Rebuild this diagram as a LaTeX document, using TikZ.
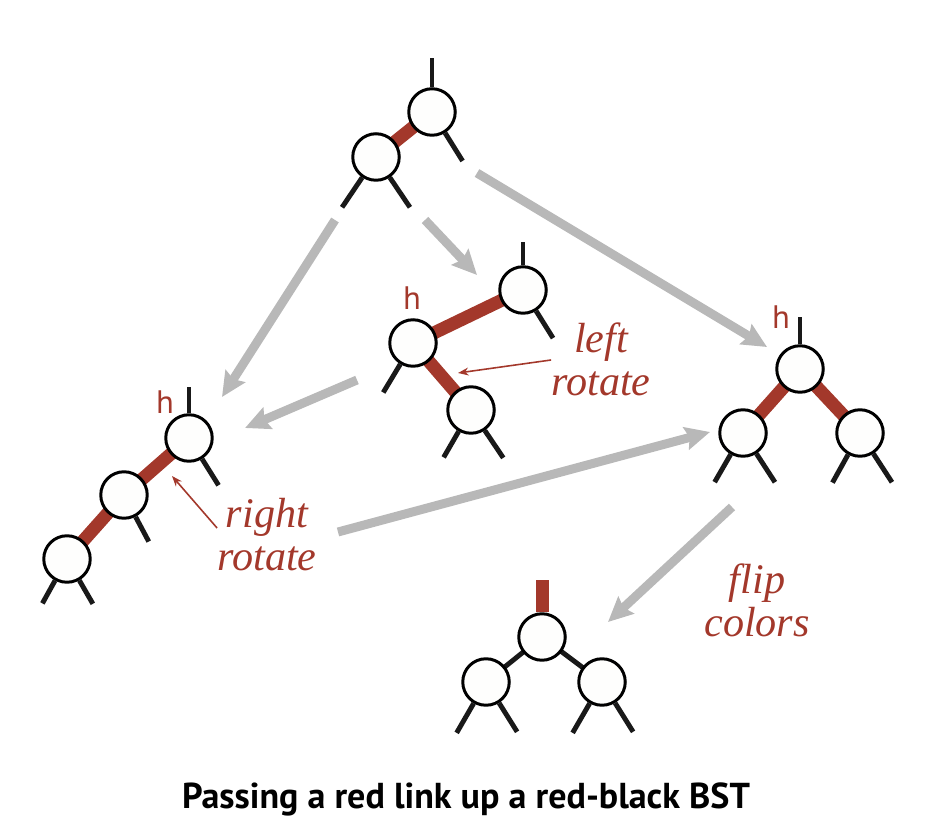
\documentclass[tikz,border=0pt]{standalone}
\usepackage{fontspec}
\setmainfont{Liberation Serif}
\newfontfamily\hfont{PT Sans}
\usepackage{tikz}
\usetikzlibrary{arrows.meta, backgrounds}
\definecolor{linkred}{RGB}{163,56,43}
\definecolor{movegray}{RGB}{184,184,184}
\definecolor{nodefill}{RGB}{254,254,253}
\tikzset{
  treenode/.style={circle, draw=black, line width=1.7pt, fill=nodefill, minimum size=0.93cm, inner sep=0pt},
  redlink/.style={draw=linkred, line width=7.4pt},
  blacklink/.style={draw=black!90, line width=2.8pt},
  stub/.style={draw=black!90, line width=2.8pt},
  move/.style={draw=movegray, line width=5.1pt, -{Stealth[length=14pt, width=13pt, inset=2pt]}},
  hint/.style={draw=linkred, line width=0.9pt, -{Stealth[length=6pt, width=4.5pt]}},
  hlabel/.style={text=linkred, font=\hfont\fontsize{18.5}{20}\selectfont, inner sep=0pt},
  oplabel/.style={text=linkred, font=\itshape\fontsize{24}{24.5}\selectfont, align=center, inner sep=0pt}
}

\begin{document}
\begin{tikzpicture}[x=0.02cm, y=-0.02cm]
    \useasboundingbox (0,0) rectangle (926,830);

    % Arbol inicial
    \node (up1) [treenode] at (432,112) {};
    \node (low1) [treenode] at (376,157) {};

    % Tras left rotate
    \node (up2) [treenode] at (523,290) {};
    \node (h2) [treenode] at (413,343) {};
    \node (low2) [treenode] at (471,410) {};
    \node (hl2) [hlabel] at (412,298) {h};

    % Tras right rotate
    \node (h3) [treenode] at (189,438) {};
    \node (mid3) [treenode] at (124,495) {};
    \node (low3) [treenode] at (67,559) {};
    \node (hl3) [hlabel] at (165,402) {h};

    % Dos hijos rojos
    \node (h4) [treenode] at (800,369) {};
    \node (l4) [treenode] at (743,433) {};
    \node (r4) [treenode] at (860,433) {};
    \node (hl4) [hlabel] at (781,317) {h};

    % Tras flip colors
    \node (top5) [treenode] at (542,637) {};
    \node (l5) [treenode] at (486,682) {};
    \node (r5) [treenode] at (602,682) {};

    % Enlaces (detras de los nodos)
    \begin{scope}[on background layer]
        \draw [redlink] (up1.center) -- (low1.center);
        \draw [redlink] (h2.center) -- (up2.center);
        \draw [redlink] (h2.center) -- (low2.center);
        \draw [redlink] (h3.center) -- (mid3.center);
        \draw [redlink] (mid3.center) -- (low3.center);
        \draw [redlink] (h4.center) -- (l4.center);
        \draw [redlink] (h4.center) -- (r4.center);
        \draw [blacklink] (top5.center) -- (l5.center);
        \draw [blacklink] (top5.center) -- (r5.center);
    \end{scope}

    % Ramas sueltas
    \draw [stub] (up1.90) -- ++(90:0.58cm);
    \draw [stub] (up1.-58) -- ++(-58:0.66cm);
    \draw [stub] (low1.-124) -- ++(-124:0.72cm);
    \draw [stub] (low1.-56) -- ++(-56:0.72cm);

    \draw [stub] (up2.90) -- ++(90:0.46cm);
    \draw [stub] (up2.-58) -- ++(-58:0.64cm);
    \draw [stub] (h2.-121) -- ++(-121:0.66cm);
    \draw [stub] (low2.-120) -- ++(-120:0.6cm);
    \draw [stub] (low2.-56) -- ++(-56:0.66cm);

    \draw [stub] (h3.90) -- ++(90:0.52cm);
    \draw [stub] (h3.-58) -- ++(-58:0.62cm);
    \draw [stub] (mid3.-62) -- ++(-62:0.56cm);
    \draw [stub] (low3.-119) -- ++(-119:0.52cm);
    \draw [stub] (low3.-60) -- ++(-60:0.54cm);

    \draw [stub] (h4.90) -- ++(90:0.54cm);
    \draw [stub] (l4.-120) -- ++(-120:0.64cm);
    \draw [stub] (l4.-57) -- ++(-57:0.68cm);
    \draw [stub] (r4.-119) -- ++(-119:0.64cm);
    \draw [stub] (r4.-57) -- ++(-57:0.68cm);

    \draw [redlink] (top5.90) -- ++(90:0.64cm);
    \draw [stub] (l5.-120) -- ++(-120:0.68cm);
    \draw [stub] (l5.-58) -- ++(-58:0.68cm);
    \draw [stub] (r5.-120) -- ++(-120:0.68cm);
    \draw [stub] (r5.-58) -- ++(-58:0.68cm);

    % Flechas grises entre pasos
    \coordinate (g1a) at (335,220); \coordinate (g1b) at (222,397);
    \coordinate (g2a) at (425,220); \coordinate (g2b) at (477,275);
    \coordinate (g3a) at (477,173); \coordinate (g3b) at (767,347);
    \coordinate (g4a) at (357,380); \coordinate (g4b) at (245,428);
    \coordinate (g5a) at (338,532); \coordinate (g5b) at (710,432);
    \coordinate (g6a) at (732,507); \coordinate (g6b) at (608,622);
    \draw [move] (g1a) -- (g1b);
    \draw [move] (g2a) -- (g2b);
    \draw [move] (g3a) -- (g3b);
    \draw [move] (g4a) -- (g4b);
    \draw [move] (g5a) -- (g5b);
    \draw [move] (g6a) -- (g6b);

    % Etiquetas de operaciones
    \node (leftrot) [oplabel] at (601,359) {left\\rotate};
    \node (rightrot) [oplabel] at (267,535) {right\\rotate};
    \node (flip) [oplabel] at (757,600) {flip\\colors};
    \coordinate (lrtip) at (458,373);
    \coordinate (rrtip) at (172,476);
    \draw [hint] (leftrot.west |- 0,360) -- (lrtip);
    \draw [hint] (rightrot.west |- 0,528) -- (rrtip);

    % Titulo
    \node (title) [anchor=base, font=\hfont\bfseries\fontsize{20.5}{24}\selectfont] at (466,808) {Passing a red link up a red-black BST};
\end{tikzpicture}
\end{document}
